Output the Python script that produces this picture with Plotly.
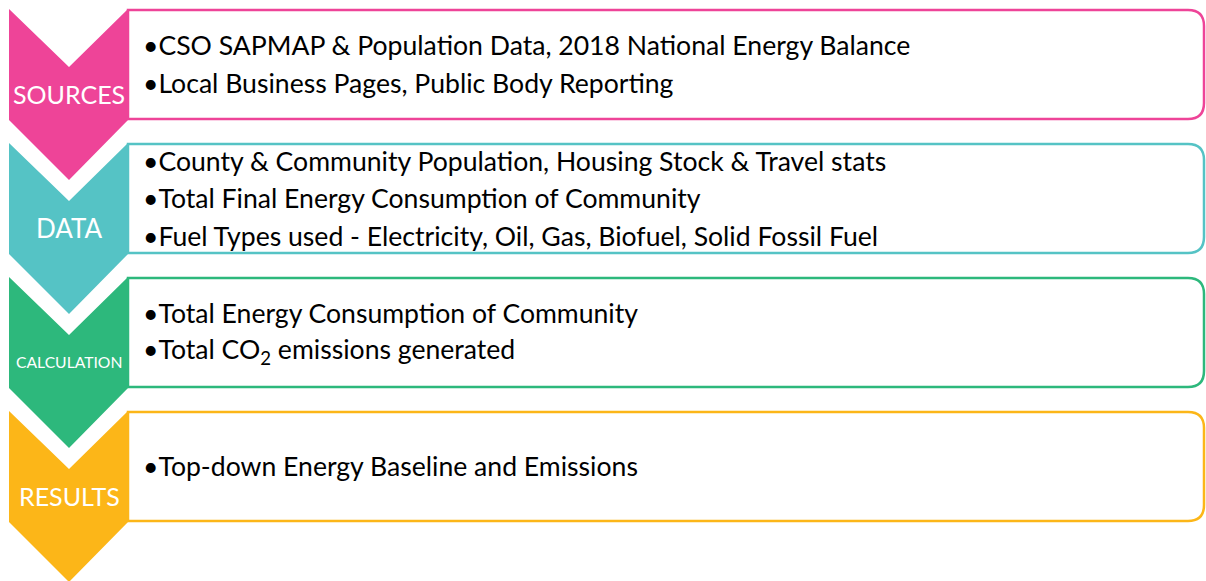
import plotly.graph_objects as go

# ---- data ----
stages = ["SOURCES", "DATA", "CALCULATION", "RESULTS"]
stage_colors = ["#EE4498", "#55C3C5", "#2DB87C", "#FCB618"]
stage_font_sizes = [25, 26, 15.7, 25]
bullets = [
    ["CSO SAPMAP & Population Data, 2018 National Energy Balance",
     "Local Business Pages, Public Body Reporting"],
    ["County & Community Population, Housing Stock & Travel stats",
     "Total Final Energy Consumption of Community",
     "Fuel Types used - Electricity, Oil, Gas, Biofuel, Solid Fossil Fuel"],
    ["Total Energy Consumption of Community",
     "Total CO<sub>2</sub> emissions generated"],
    ["Top-down Energy Baseline and Emissions"],
]

# ---- layout constants ----
W, H = 1206, 581
chev_left, chev_mid, chev_right = 9, 69, 128
box_right = 1204
step = 134
first_top = 9
notch, side, tip = 58, 111, 171
radius = 16
line_gap = 37.5
text_x = 141

fig = go.Figure()
shapes = []
annotations = []

for i, (name, col) in enumerate(zip(stages, stage_colors)):
    top = first_top + step * i
    bt, bb = top + 1, top + 110
    r = radius
    path = (f"M {chev_right},{bt} L {box_right - r},{bt} Q {box_right},{bt} {box_right},{bt + r} "
            f"L {box_right},{bb - r} Q {box_right},{bb} {box_right - r},{bb} L {chev_right},{bb} Z")
    shapes.append(dict(type="path", path=path, xref="x", yref="y",
                       line=dict(color=col, width=2.5), fillcolor="white", layer="below"))
    cpath = (f"M {chev_left},{top} L {chev_mid},{top + notch} L {chev_right},{top} "
             f"L {chev_right},{top + side} L {chev_mid},{top + tip} L {chev_left},{top + side} Z")
    shapes.append(dict(type="path", path=cpath, xref="x", yref="y",
                       line=dict(width=0), fillcolor=col, layer="above"))
    annotations.append(dict(x=chev_mid, y=top + 85, xref="x", yref="y", text=name,
                            showarrow=False, xanchor="center", yanchor="middle",
                            font=dict(family="Lato", size=stage_font_sizes[i], color="white")))
    lines = bullets[i]
    center = top + 55
    n = len(lines)
    for j, t in enumerate(lines):
        y = center + (j - (n - 1) / 2) * line_gap
        annotations.append(dict(x=text_x, y=y, xref="x", yref="y", text="•" + t,
                                showarrow=False, xanchor="left", yanchor="middle",
                                font=dict(family="Lato", size=26.6, color="black")))

fig.update_layout(
    width=W, height=H, margin=dict(l=0, r=0, t=0, b=0),
    paper_bgcolor="white", plot_bgcolor="white",
    xaxis=dict(range=[0, W], visible=False, fixedrange=True),
    yaxis=dict(range=[H, 0], visible=False, fixedrange=True),
    shapes=shapes, annotations=annotations, showlegend=False,
)
fig.write_html("out.html", config={"displayModeBar": False},
               post_script="document.body.style.margin='0';document.body.style.overflow='hidden';")
